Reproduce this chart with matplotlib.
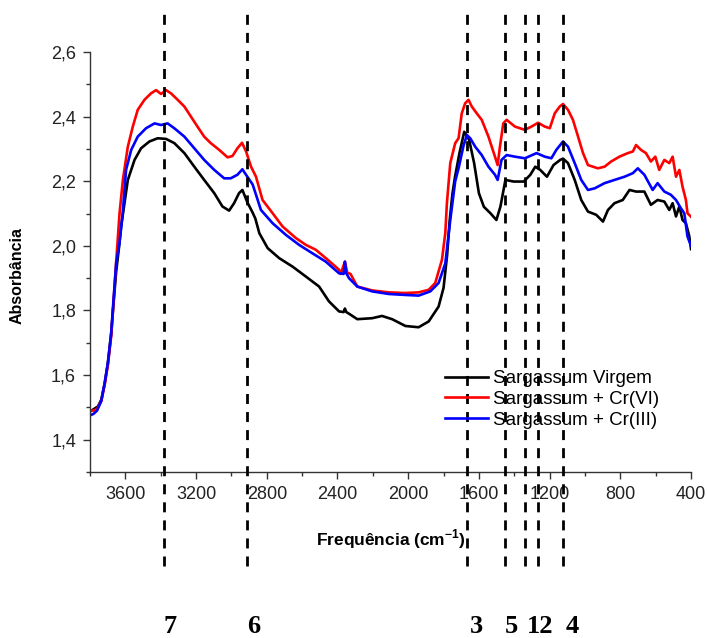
import matplotlib
matplotlib.use("Agg")
import matplotlib.pyplot as plt
from matplotlib.ticker import MultipleLocator, FuncFormatter
from matplotlib.transforms import blended_transform_factory

plt.rcParams['font.family'] = ['Liberation Sans', 'DejaVu Sans']
plt.rcParams['mathtext.fontset'] = 'custom'
plt.rcParams['mathtext.rm'] = 'Liberation Sans'
plt.rcParams['mathtext.bf'] = 'Liberation Sans:bold'

# FTIR spectra (wavenumber in cm-1, absorbance)
wn_virgem = [3800, 3755, 3736, 3717, 3699, 3680, 3670, 3652, 3637, 3624,
             3586, 3548, 3511, 3464, 3417, 3370, 3323, 3266, 3210, 3154,
             3097, 3051, 3013, 2985, 2957, 2938, 2910, 2882, 2865, 2842,
             2795, 2730, 2655, 2579, 2504, 2448, 2391, 2365, 2358, 2350,
             2335, 2288, 2204, 2148, 2091, 2016, 1941, 1884, 1828, 1800,
             1780, 1765, 1750, 1735, 1710, 1683, 1655, 1627, 1600, 1572,
             1535, 1501, 1478, 1450, 1403, 1346, 1309, 1281, 1253, 1215,
             1178, 1140, 1124, 1096, 1058, 1021, 983, 936, 898, 870,
             833, 786, 748, 711, 664, 627, 589, 551, 523, 504,
             485, 466, 448, 429, 410, 400]
abs_virgem = [1.487, 1.503, 1.524, 1.575, 1.637, 1.73, 1.80, 1.92, 1.99, 2.06,
              2.204, 2.266, 2.302, 2.323, 2.333, 2.331, 2.318, 2.287, 2.245, 2.204,
              2.163, 2.122, 2.109, 2.132, 2.163, 2.173, 2.135, 2.105, 2.085, 2.039,
              1.993, 1.962, 1.936, 1.905, 1.874, 1.828, 1.797, 1.795, 1.806, 1.795,
              1.790, 1.773, 1.776, 1.783, 1.773, 1.752, 1.748, 1.766, 1.812, 1.87,
              1.97, 2.08, 2.16, 2.214, 2.287, 2.353, 2.328, 2.256, 2.163, 2.121,
              2.101, 2.080, 2.122, 2.204, 2.199, 2.199, 2.220, 2.245, 2.235, 2.214,
              2.250, 2.266, 2.270, 2.256, 2.204, 2.142, 2.106, 2.096, 2.075, 2.111,
              2.132, 2.142, 2.173, 2.168, 2.168, 2.127, 2.142, 2.137, 2.111, 2.132,
              2.091, 2.122, 2.080, 2.070, 2.03, 1.99]

wn_cr6 = [3800, 3780, 3760, 3736, 3717, 3699, 3680, 3670, 3652, 3633,
          3614, 3586, 3558, 3530, 3492, 3455, 3426, 3398, 3370, 3342,
          3304, 3266, 3229, 3192, 3154, 3117, 3069, 3022, 2994, 2966,
          2940, 2917, 2889, 2861, 2824, 2767, 2711, 2635, 2579, 2523,
          2466, 2391, 2382, 2358, 2345, 2326, 2288, 2204, 2110, 2016,
          1941, 1884, 1847, 1809, 1790, 1781, 1762, 1734, 1715, 1697,
          1678, 1659, 1640, 1612, 1584, 1546, 1509, 1494, 1481, 1462,
          1443, 1396, 1340, 1303, 1265, 1227, 1199, 1171, 1143, 1124,
          1096, 1068, 1039, 1011, 983, 927, 889, 852, 805, 758,
          729, 711, 683, 655, 627, 602, 580, 551, 523, 504,
          485, 466, 448, 429, 420, 400]
abs_cr6 = [1.49, 1.49, 1.495, 1.52, 1.57, 1.63, 1.72, 1.80, 1.95, 2.10,
           2.204, 2.307, 2.369, 2.421, 2.452, 2.472, 2.482, 2.470, 2.482, 2.472,
           2.452, 2.431, 2.400, 2.369, 2.338, 2.318, 2.297, 2.274, 2.278, 2.302,
           2.319, 2.292, 2.245, 2.214, 2.142, 2.101, 2.060, 2.024, 2.003, 1.988,
           1.962, 1.926, 1.913, 1.951, 1.917, 1.913, 1.874, 1.862, 1.856, 1.854,
           1.856, 1.864, 1.885, 1.957, 2.04, 2.132, 2.256, 2.318, 2.333, 2.410,
           2.441, 2.452, 2.431, 2.410, 2.390, 2.338, 2.276, 2.250, 2.307, 2.379,
           2.390, 2.369, 2.359, 2.369, 2.381, 2.369, 2.364, 2.410, 2.431, 2.439,
           2.421, 2.390, 2.338, 2.287, 2.250, 2.240, 2.245, 2.261, 2.276, 2.287,
           2.292, 2.312, 2.297, 2.287, 2.261, 2.276, 2.235, 2.266, 2.256, 2.276,
           2.214, 2.235, 2.183, 2.142, 2.101, 2.09]

wn_cr3 = [3800, 3780, 3760, 3736, 3717, 3699, 3680, 3670, 3652, 3633,
          3615, 3596, 3567, 3530, 3483, 3435, 3398, 3361, 3323, 3266,
          3210, 3154, 3097, 3041, 3004, 2966, 2938, 2910, 2880, 2865,
          2833, 2767, 2692, 2617, 2542, 2466, 2391, 2365, 2358, 2350,
          2335, 2288, 2204, 2110, 2016, 1941, 1875, 1828, 1790, 1762,
          1734, 1715, 1687, 1668, 1649, 1621, 1584, 1546, 1509, 1494,
          1472, 1443, 1396, 1340, 1274, 1227, 1190, 1162, 1124, 1096,
          1058, 1021, 983, 945, 889, 833, 776, 729, 701, 664,
          617, 589, 551, 514, 485, 457, 438, 420, 400]
abs_cr3 = [1.475, 1.48, 1.49, 1.52, 1.575, 1.637, 1.73, 1.81, 1.946, 2.01,
           2.10, 2.235, 2.297, 2.338, 2.364, 2.379, 2.374, 2.379, 2.364, 2.338,
           2.302, 2.266, 2.235, 2.209, 2.209, 2.220, 2.237, 2.214, 2.19, 2.165,
           2.111, 2.070, 2.034, 2.003, 1.977, 1.951, 1.915, 1.913, 1.951, 1.915,
           1.900, 1.874, 1.859, 1.851, 1.848, 1.846, 1.859, 1.885, 1.946, 2.08,
           2.20, 2.24, 2.31, 2.343, 2.333, 2.307, 2.281, 2.245, 2.220, 2.204,
           2.266, 2.281, 2.276, 2.271, 2.287, 2.276, 2.271, 2.297, 2.323, 2.307,
           2.256, 2.204, 2.173, 2.178, 2.194, 2.204, 2.214, 2.225, 2.240, 2.220,
           2.173, 2.194, 2.168, 2.158, 2.142, 2.116, 2.101, 2.029, 2.00]

# assigned bands (dashed markers) and their numbering
band_wn = [3383, 2910, 1665, 1451, 1338, 1265, 1124]
band_text = ['7', '6', '3', '5', '12', '4']
band_text_wn = [3383, 2910, 1650, 1451, 1330, 1110]

fig = plt.figure(figsize=(7.07, 6.38), dpi=100)
ax = fig.add_axes([0.1273, 0.2602, 0.8501, 0.6583])

ax.plot(wn_virgem, abs_virgem, color='black', lw=1.9, label='Sargassum Virgem')
ax.plot(wn_cr6, abs_cr6, color='#ff0000', lw=1.9, label='Sargassum + Cr(VI)')
ax.plot(wn_cr3, abs_cr3, color='#0000ff', lw=1.9, label='Sargassum + Cr(III)')

ax.set_xlim(3800, 400)
ax.set_ylim(1.3, 2.6)

ax.spines['top'].set_visible(False)
ax.spines['right'].set_visible(False)
for s in ['left', 'bottom']:
    ax.spines[s].set_color('#333333')
    ax.spines[s].set_linewidth(1.0)

ax.xaxis.set_major_locator(MultipleLocator(400))
ax.xaxis.set_minor_locator(MultipleLocator(200))
ax.yaxis.set_major_locator(MultipleLocator(0.2))
ax.yaxis.set_minor_locator(MultipleLocator(0.1))
ax.yaxis.set_major_formatter(FuncFormatter(lambda v, p: f"{v:.1f}".replace('.', ',')))
ax.tick_params(which='major', direction='out', length=5, width=1, colors='#333333',
               labelsize=13, labelcolor='#222222', pad=5)
ax.tick_params(which='minor', direction='out', length=3, width=1, colors='#333333')

ax.set_xlabel('Frequência (cm$^{\\mathbf{-1}}$)', fontsize=12.5, fontweight='bold')
ax.set_ylabel('Absorbância', fontsize=11.5, fontweight='bold')
ax.xaxis.set_label_coords(0.5, -0.133)
ax.yaxis.set_label_coords(-0.108, 0.467)

leg = ax.legend(loc='upper left', bbox_to_anchor=(0.629, 0.42),
                bbox_transform=fig.transFigure, frameon=False, fontsize=13.5,
                handlelength=2.3, handletextpad=0.3, labelspacing=0.2,
                borderpad=0, borderaxespad=0)

# dashed band markers run past the axes
for w in band_wn:
    ax.axvline(w, ymin=-0.224, ymax=1.095, color='black', lw=2,
               ls=(0, (3.6, 2.9)), clip_on=False, zorder=5)

trans = blended_transform_factory(ax.transData, fig.transFigure)
for w, t in zip(band_text_wn, band_text):
    ax.text(w, 0.018, t, transform=trans, ha='left', va='center',
            fontsize=19, fontweight='bold', family='Liberation Serif')

fig.savefig('out.png', dpi=100)
